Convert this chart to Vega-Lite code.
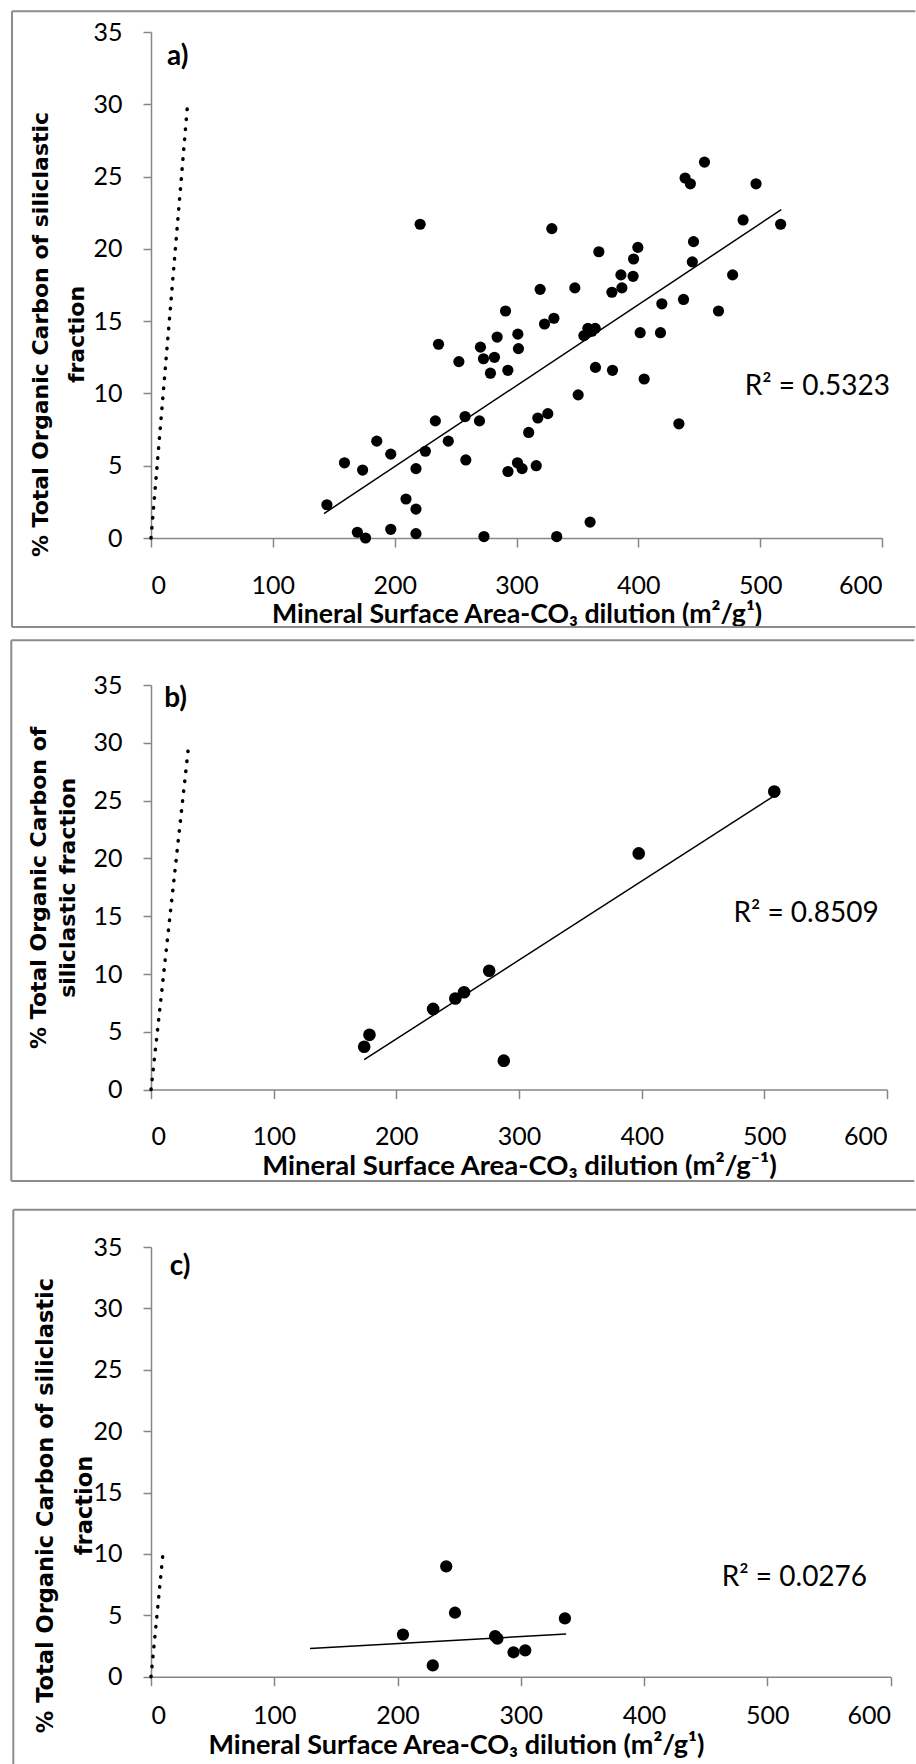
{
  "$schema": "https://vega.github.io/schema/vega-lite/v6.json",
  "background": "white",
  "padding": {"left": 10, "top": 10, "right": 0, "bottom": 0},
  "config": {
    "view": {"stroke": null},
    "font": "Lato",
    "axis": {
      "grid": false,
      "domainColor": "#868686",
      "tickColor": "#868686",
      "domainWidth": 1.5,
      "tickWidth": 1.5,
      "labelFont": "Lato",
      "labelFontSize": 25,
      "labelColor": "black",
      "titleColor": "black"
    },
    "axisX": {"tickSize": 9, "labelPadding": 26, "titleFont": "Lato, DejaVu Sans", "titleFontSize": 27.5, "titleFontWeight": "bold", "titlePadding": 3},
    "axisY": {"tickSize": 8, "labelPadding": 21, "titleFont": "DejaVu Sans", "titleFontSize": 22, "titleFontWeight": "bold", "titleBaseline": "bottom"}
  },
  "spacing": 25,
  "vconcat": [
    {
      "spacing": 10,
      "vconcat": [
        {
          "width": 731,
          "height": 506,
          "layer": [
            {"data": {"values": [{"x": 142, "y": 1.69}, {"x": 517.3, "y": 22.71}]},
             "mark": {"type": "line", "color": "black", "strokeWidth": 1.5},
             "encoding": {"x": {"field": "x", "type": "quantitative"}, "y": {"field": "y", "type": "quantitative"}}},
            {"data": {"values": [
              {"x": 144.4, "y": 2.3}, {"x": 158.8, "y": 5.2}, {"x": 169.4, "y": 0.4}, {"x": 173.7, "y": 4.7}, {"x": 176.1, "y": 0.0},
              {"x": 185.3, "y": 6.7}, {"x": 196.8, "y": 5.8}, {"x": 196.8, "y": 0.6}, {"x": 209.3, "y": 2.7}, {"x": 217.5, "y": 4.8},
              {"x": 217.5, "y": 2.0}, {"x": 217.5, "y": 0.3}, {"x": 220.9, "y": 21.7}, {"x": 225.2, "y": 6.0}, {"x": 233.4, "y": 8.1},
              {"x": 236.0, "y": 13.4}, {"x": 244.0, "y": 6.7}, {"x": 252.7, "y": 12.2}, {"x": 257.8, "y": 8.4}, {"x": 258.4, "y": 5.4},
              {"x": 269.6, "y": 8.1}, {"x": 270.4, "y": 13.2}, {"x": 272.9, "y": 12.4}, {"x": 273.3, "y": 0.1}, {"x": 278.6, "y": 11.4},
              {"x": 281.9, "y": 12.5}, {"x": 284.1, "y": 13.9}, {"x": 291.0, "y": 15.7}, {"x": 292.9, "y": 11.6}, {"x": 293.0, "y": 4.6},
              {"x": 301.1, "y": 14.1}, {"x": 301.6, "y": 13.1}, {"x": 300.8, "y": 5.2}, {"x": 304.6, "y": 4.8}, {"x": 310.0, "y": 7.3},
              {"x": 316.2, "y": 5.0}, {"x": 317.5, "y": 8.3}, {"x": 319.4, "y": 17.2}, {"x": 323.0, "y": 14.8}, {"x": 325.7, "y": 8.6},
              {"x": 329.0, "y": 21.4}, {"x": 330.7, "y": 15.2}, {"x": 333.0, "y": 0.1}, {"x": 347.9, "y": 17.3}, {"x": 350.6, "y": 9.9},
              {"x": 355.3, "y": 14.0}, {"x": 358.6, "y": 14.5}, {"x": 361.9, "y": 14.3}, {"x": 364.6, "y": 14.5}, {"x": 360.4, "y": 1.1},
              {"x": 364.8, "y": 11.8}, {"x": 367.6, "y": 19.8}, {"x": 378.3, "y": 17.0}, {"x": 378.8, "y": 11.6}, {"x": 385.7, "y": 18.2},
              {"x": 386.5, "y": 17.3}, {"x": 395.7, "y": 18.1}, {"x": 396.1, "y": 19.3}, {"x": 399.6, "y": 20.1}, {"x": 401.5, "y": 14.2},
              {"x": 404.8, "y": 11.0}, {"x": 418.2, "y": 14.2}, {"x": 419.3, "y": 16.2}, {"x": 433.3, "y": 7.9}, {"x": 437.1, "y": 16.5},
              {"x": 438.4, "y": 24.9}, {"x": 442.7, "y": 24.5}, {"x": 444.3, "y": 19.1}, {"x": 445.3, "y": 20.5}, {"x": 454.3, "y": 26.0},
              {"x": 465.8, "y": 15.7}, {"x": 477.4, "y": 18.2}, {"x": 486.0, "y": 22.0}, {"x": 496.6, "y": 24.5}, {"x": 516.8, "y": 21.7}
             ]},
             "mark": {"type": "point", "filled": true, "color": "black", "opacity": 1, "size": 125},
             "encoding": {
               "x": {"field": "x", "type": "quantitative", "scale": {"domain": [0, 600], "nice": false},
                     "axis": {"values": [0, 100, 200, 300, 400, 500, 600], "title": "Mineral Surface Area-CO₃ dilution  (m²/g¹)", "titleFontSize": 26.7}},
               "y": {"field": "y", "type": "quantitative", "scale": {"domain": [0, 35], "nice": false},
                     "axis": {"values": [0, 5, 10, 15, 20, 25, 30, 35], "title": ["% Total Organic Carbon of  siliclastic", "fraction"], "titleLineHeight": 36, "titleX": -99, "titleY": 302}}
             }},
            {"data": {"values": [{}]}, "mark": {"type": "rule", "color": "#8c8c8c", "strokeWidth": 2},
             "encoding": {"x": {"datum": -114.1, "type": "quantitative"}, "y": {"datum": -6.16, "type": "quantitative"}, "y2": {"datum": 36.43}}},
            {"data": {"values": [{}]}, "mark": {"type": "rule", "color": "#8c8c8c", "strokeWidth": 2},
             "encoding": {"x": {"datum": -114.1, "type": "quantitative"}, "x2": {"datum": 627.3}, "y": {"datum": 36.43, "type": "quantitative"}}},
            {"data": {"values": [{}]}, "mark": {"type": "rule", "color": "#8c8c8c", "strokeWidth": 2},
             "encoding": {"x": {"datum": -114.1, "type": "quantitative"}, "x2": {"datum": 627.3}, "y": {"datum": -6.16, "type": "quantitative"}}},
            {"data": {"values": [{"x": 0, "y": 0}, {"x": 30, "y": 30}]},
             "mark": {"type": "line", "color": "black", "strokeWidth": 3.5, "strokeDash": [0.5, 9.5], "strokeCap": "round"},
             "encoding": {"x": {"field": "x", "type": "quantitative"}, "y": {"field": "y", "type": "quantitative"}}},
            {"data": {"values": [{}]}, "mark": {"type": "text", "font": "Lato, DejaVu Sans", "fontSize": 28, "color": "black"},
             "encoding": {"x": {"datum": 547, "type": "quantitative"}, "y": {"datum": 10.45, "type": "quantitative"}, "text": {"value": "R² = 0.5323"}}},
            {"data": {"values": [{}]}, "mark": {"type": "text", "font": "Lato", "fontWeight": "bold", "fontSize": 28, "color": "black"},
             "encoding": {"x": {"datum": 22, "type": "quantitative"}, "y": {"datum": 33.25, "type": "quantitative"}, "text": {"value": "a)"}}}
          ]
        },
        {
          "width": 736,
          "height": 404.6,
          "layer": [
            {"data": {"values": [{"x": 173.8, "y": 2.59}, {"x": 506.7, "y": 25.33}]},
             "mark": {"type": "line", "color": "black", "strokeWidth": 1.5},
             "encoding": {"x": {"field": "x", "type": "quantitative"}, "y": {"field": "y", "type": "quantitative"}}},
            {"data": {"values": [
              {"x": 173.8, "y": 3.71}, {"x": 178.1, "y": 4.74}, {"x": 230.0, "y": 6.98}, {"x": 248.1, "y": 7.88}, {"x": 255.2, "y": 8.42},
              {"x": 275.7, "y": 10.28}, {"x": 287.6, "y": 2.5}, {"x": 397.6, "y": 20.43}, {"x": 508.1, "y": 25.78}
             ]},
             "mark": {"type": "point", "filled": true, "color": "black", "opacity": 1, "size": 160},
             "encoding": {
               "x": {"field": "x", "type": "quantitative", "scale": {"domain": [0, 600], "nice": false},
                     "axis": {"values": [0, 100, 200, 300, 400, 500, 600], "title": "Mineral Surface Area-CO₃ dilution (m²/g⁻¹)"}},
               "y": {"field": "y", "type": "quantitative", "scale": {"domain": [0, 35], "nice": false},
                     "axis": {"values": [0, 5, 10, 15, 20, 25, 30, 35], "title": ["% Total Organic Carbon of", "siliclastic fraction"], "titleLineHeight": 29, "titleX": -101}}
             }},
            {"data": {"values": [{}]}, "mark": {"type": "rule", "color": "#8c8c8c", "strokeWidth": 2},
             "encoding": {"x": {"datum": -113.9, "type": "quantitative"}, "y": {"datum": -7.91, "type": "quantitative"}, "y2": {"datum": 38.87}}},
            {"data": {"values": [{}]}, "mark": {"type": "rule", "color": "#8c8c8c", "strokeWidth": 2},
             "encoding": {"x": {"datum": -113.9, "type": "quantitative"}, "x2": {"datum": 622.3}, "y": {"datum": 38.87, "type": "quantitative"}}},
            {"data": {"values": [{}]}, "mark": {"type": "rule", "color": "#8c8c8c", "strokeWidth": 2},
             "encoding": {"x": {"datum": -113.9, "type": "quantitative"}, "x2": {"datum": 622.3}, "y": {"datum": -7.91, "type": "quantitative"}}},
            {"data": {"values": [{"x": 0, "y": 0}, {"x": 30.5, "y": 29.6}]},
             "mark": {"type": "line", "color": "black", "strokeWidth": 3.5, "strokeDash": [0.5, 9.5], "strokeCap": "round"},
             "encoding": {"x": {"field": "x", "type": "quantitative"}, "y": {"field": "y", "type": "quantitative"}}},
            {"data": {"values": [{}]}, "mark": {"type": "text", "font": "Lato, DejaVu Sans", "fontSize": 28, "color": "black"},
             "encoding": {"x": {"datum": 534, "type": "quantitative"}, "y": {"datum": 15.2, "type": "quantitative"}, "text": {"value": "R² = 0.8509"}}},
            {"data": {"values": [{}]}, "mark": {"type": "text", "font": "Lato", "fontWeight": "bold", "fontSize": 28, "color": "black"},
             "encoding": {"x": {"datum": 20, "type": "quantitative"}, "y": {"datum": 33.8, "type": "quantitative"}, "text": {"value": "b)"}}}
          ]
        }
      ]
    },
    {
      "width": 739.6,
      "height": 429.7,
      "layer": [
        {"data": {"values": [{"x": 129, "y": 2.3}, {"x": 336.8, "y": 3.47}]},
         "mark": {"type": "line", "color": "black", "strokeWidth": 1.5},
         "encoding": {"x": {"field": "x", "type": "quantitative"}, "y": {"field": "y", "type": "quantitative"}}},
        {"data": {"values": [
          {"x": 204.4, "y": 3.43}, {"x": 228.6, "y": 0.92}, {"x": 239.5, "y": 8.99}, {"x": 246.6, "y": 5.21}, {"x": 279.2, "y": 3.3},
          {"x": 281.0, "y": 3.1}, {"x": 294.1, "y": 1.99}, {"x": 303.6, "y": 2.15}, {"x": 335.8, "y": 4.75}
         ]},
         "mark": {"type": "point", "filled": true, "color": "black", "opacity": 1, "size": 150},
         "encoding": {
           "x": {"field": "x", "type": "quantitative", "scale": {"domain": [0, 600], "nice": false},
                 "axis": {"values": [0, 100, 200, 300, 400, 500, 600], "title": "Mineral Surface Area-CO₃ dilution (m²/g¹)", "titleX": 305, "titleFontSize": 27, "titlePadding": 4, "labelPadding": 18}},
           "y": {"field": "y", "type": "quantitative", "scale": {"domain": [0, 35], "nice": false},
                 "axis": {"values": [0, 5, 10, 15, 20, 25, 30, 35], "title": ["% Total Organic Carbon of siliclastic", "fraction"], "titleFontSize": 22.5, "titleLineHeight": 39, "titleX": -94, "titleY": 258}}
         }},
        {"data": {"values": [{}]}, "mark": {"type": "rule", "color": "#8c8c8c", "strokeWidth": 2},
         "encoding": {"x": {"datum": -111.7, "type": "quantitative"}, "y": {"datum": -7.3, "type": "quantitative"}, "y2": {"datum": 38.04}}},
        {"data": {"values": [{}]}, "mark": {"type": "rule", "color": "#8c8c8c", "strokeWidth": 2},
         "encoding": {"x": {"datum": -111.7, "type": "quantitative"}, "x2": {"datum": 620.9}, "y": {"datum": 38.04, "type": "quantitative"}}},
        {"data": {"values": [{"x": 0, "y": 0}, {"x": 9.5, "y": 9.85}]},
         "mark": {"type": "line", "color": "black", "strokeWidth": 3.5, "strokeDash": [0.5, 9.5], "strokeCap": "round"},
         "encoding": {"x": {"field": "x", "type": "quantitative"}, "y": {"field": "y", "type": "quantitative"}}},
        {"data": {"values": [{}]}, "mark": {"type": "text", "font": "Lato, DejaVu Sans", "fontSize": 28, "color": "black"},
         "encoding": {"x": {"datum": 522, "type": "quantitative"}, "y": {"datum": 8.0, "type": "quantitative"}, "text": {"value": "R² = 0.0276"}}},
        {"data": {"values": [{}]}, "mark": {"type": "text", "font": "Lato", "fontWeight": "bold", "fontSize": 28, "color": "black"},
         "encoding": {"x": {"datum": 23.7, "type": "quantitative"}, "y": {"datum": 33.4, "type": "quantitative"}, "text": {"value": "c)"}}}
      ]
    }
  ]
}
